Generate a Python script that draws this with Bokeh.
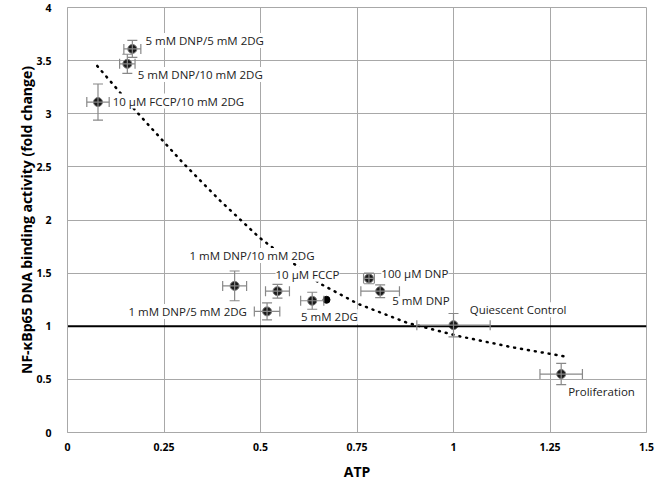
from bokeh.plotting import figure
from bokeh.models import ColumnDataSource, Whisker, TeeHead, LabelSet, Span, FixedTicker, Range1d
from bokeh.core.properties import value
from bokeh.embed import file_html
from bokeh.resources import INLINE

# Data
atp = [0.168, 0.155, 0.079, 0.433, 0.544, 0.517, 0.634, 0.781, 0.810, 1.000, 1.279]
nfkb = [3.61, 3.47, 3.11, 1.38, 1.33, 1.14, 1.24, 1.45, 1.33, 1.01, 0.55]
atp_err = [0.022, 0.020, 0.029, 0.031, 0.031, 0.033, 0.030, 0.014, 0.050, 0.095, 0.055]
nfkb_err = [0.08, 0.09, 0.17, 0.14, 0.065, 0.08, 0.08, 0.05, 0.06, 0.11, 0.10]

extra_atp = [0.671]
extra_nfkb = [1.249]

trend_atp = [0.077, 0.181, 0.301, 0.396, 0.497, 0.655, 0.753, 0.882, 1.01, 1.155, 1.298]
trend_nfkb = [3.45, 3.01, 2.53, 2.18, 1.835, 1.40, 1.21, 1.03, 0.91, 0.80, 0.71]

label_text = ["5 mM DNP/5 mM 2DG", "5 mM DNP/10 mM 2DG", "10 \u00b5M FCCP/10 mM 2DG",
              "1 mM DNP/10 mM 2DG", "10 \u00b5M FCCP", "1 mM DNP/5 mM 2DG", "5 mM 2DG",
              "100 \u00b5M DNP", "5 mM DNP", "Quiescent Control", "Proliferation"]
label_x = [0.202, 0.182, 0.117, 0.316, 0.539, 0.158, 0.605, 0.813, 0.841, 1.042, 1.297]
label_y = [3.69, 3.37, 3.12, 1.666, 1.49, 1.14, 1.09, 1.50, 1.24, 1.155, 0.386]

x_ticks = [0, 0.25, 0.5, 0.75, 1, 1.25, 1.5]
y_ticks = [0, 0.5, 1, 1.5, 2, 2.5, 3, 3.5, 4]

src = ColumnDataSource(dict(
    x=atp, y=nfkb,
    xl=[a - e for a, e in zip(atp, atp_err)], xu=[a + e for a, e in zip(atp, atp_err)],
    yl=[a - e for a, e in zip(nfkb, nfkb_err)], yu=[a + e for a, e in zip(nfkb, nfkb_err)],
))
lab_src = ColumnDataSource(dict(x=label_x, y=label_y, t=label_text))

GRID = "#a8a8a8"

p = figure(width=660, height=484, output_backend="svg", toolbar_location=None,
           x_range=Range1d(0, 1.5), y_range=Range1d(0, 4),
           min_border_left=67, min_border_right=14, min_border_top=7, min_border_bottom=52)

p.outline_line_color = GRID
p.outline_line_width = 1
p.background_fill_color = "white"
p.border_fill_color = "white"

for ax in (p.xaxis[0], p.yaxis[0]):
    ax.axis_line_color = GRID
    ax.major_tick_line_color = None
    ax.minor_tick_line_color = None
    ax.major_label_text_font = "Open Sans"
    ax.major_label_text_font_style = "bold"
    ax.major_label_text_font_size = "10.5px"
    ax.major_label_text_color = "black"
    ax.axis_label_text_font = "Open Sans"
    ax.axis_label_text_font_style = "bold"
    ax.axis_label_text_font_size = "14px"
    ax.axis_label_text_color = "black"

p.xaxis.ticker = FixedTicker(ticks=x_ticks)
p.yaxis.ticker = FixedTicker(ticks=y_ticks)
p.xgrid.ticker = FixedTicker(ticks=x_ticks)
p.ygrid.ticker = FixedTicker(ticks=y_ticks)
p.xaxis.major_label_overrides = {0: "0", 0.25: "0.25", 0.5: "0.5", 0.75: "0.75", 1: "1", 1.25: "1.25", 1.5: "1.5"}
p.yaxis.major_label_overrides = {0: "0", 0.5: "0.5", 1: "1", 1.5: "1.5", 2: "2", 2.5: "2.5", 3: "3", 3.5: "3.5", 4: "4"}
p.xaxis.major_label_standoff = 4
p.yaxis.major_label_standoff = 10
p.xaxis.axis_label = "ATP"
p.yaxis.axis_label = "NF-\u03baBp65 DNA binding activity (fold change)"
p.xaxis.axis_label_standoff = 8
p.yaxis.axis_label_standoff = -3

p.xgrid.grid_line_color = GRID
p.ygrid.grid_line_color = GRID
p.xgrid.grid_line_width = 1
p.ygrid.grid_line_width = 1

# dotted trend line
p.line(trend_atp, trend_nfkb, line_color="black", line_width=2.5, line_dash="1 6", line_cap="round")

# reference line at 1
p.add_layout(Span(location=1, dimension="width", line_color="black", line_width=2.2, level="glyph"))

# labels with white background
labels = LabelSet(x="x", y="y", text="t", source=lab_src, text_font=value("Open Sans"),
                  text_font_size="11.5px", text_color="#222", text_baseline="middle",
                  background_fill_color="white", level="glyph")
p.add_layout(labels)

# markers
p.scatter("x", "y", source=src, size=9, fill_color="#1a1a1a", line_color="#777", line_width=1)
p.scatter(extra_atp, extra_nfkb, size=7, fill_color="black", line_color="black")

# error bars
p.add_layout(Whisker(source=src, base="x", lower="yl", upper="yu", dimension="height",
                     line_color="#888", line_width=1.2, level="overlay",
                     upper_head=TeeHead(size=10, line_color="#888", line_width=1.2),
                     lower_head=TeeHead(size=10, line_color="#888", line_width=1.2)))
p.add_layout(Whisker(source=src, base="y", lower="xl", upper="xu", dimension="width",
                     line_color="#888", line_width=1.2, level="overlay",
                     upper_head=TeeHead(size=10, line_color="#888", line_width=1.2),
                     lower_head=TeeHead(size=10, line_color="#888", line_width=1.2)))

open("out.html", "w").write(file_html(p, INLINE))
